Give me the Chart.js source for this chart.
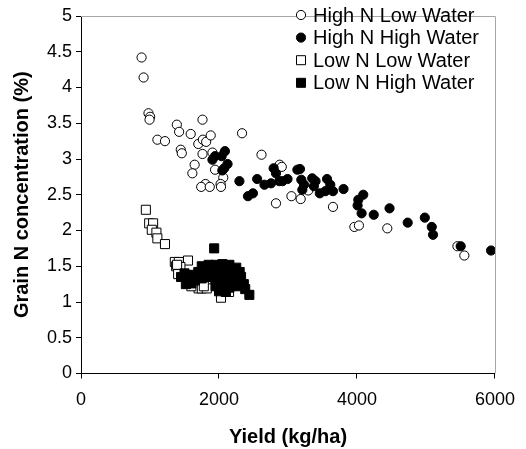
<!DOCTYPE html>
<html>
<head>
<meta charset="utf-8">
<script src="https://cdn.jsdelivr.net/npm/chart.js@4"></script>
<style>
  html, body { margin: 0; padding: 0; background: #fff; }
  #wrap { width: 526px; height: 449px; }
</style>
</head>
<body>
<div id="wrap"><canvas id="grainChart" width="526" height="449"></canvas></div>
<script>
// values
const seriesNames = ['High N Low Water', 'High N High Water', 'Low N Low Water', 'Low N High Water'];

const highNLowWaterX = [878, 907, 978, 1002, 993, 1389, 1422, 1761, 1590, 1107, 1217, 1446, 1461, 1700, 1766,
    1814, 1880, 1761, 1905, 2334, 1647, 1614, 1943, 2062, 1804, 1742, 1866, 2023, 2029, 2616,
    2880, 2910, 2826, 3050, 3184, 3294, 3652, 3962, 4028, 4439, 5456, 5556];
const highNLowWaterY = [4.42, 4.14, 3.64, 3.59, 3.55, 3.48, 3.38, 3.55, 3.35, 3.27, 3.25, 3.13, 3.08, 3.21, 3.27,
    3.24, 3.33, 3.07, 3.09, 3.36, 2.92, 2.80, 2.85, 2.74, 2.65, 2.61, 2.61, 2.65, 2.61, 3.06,
    2.92, 2.89, 2.38, 2.48, 2.44, 2.56, 2.33, 2.05, 2.07, 2.03, 1.78, 1.65];

const highNHighWaterX = [2086, 2038, 1943, 1905, 2124, 2076, 2048, 2296, 2420, 2492, 2553, 2659, 2754, 2792, 2826,
    2874, 2921, 2993, 3136, 3174, 3193, 3232, 3208, 3351, 3399, 3375, 3461, 3542, 3566, 3613,
    3652, 3805, 4019, 4009, 4091, 4067, 4243, 4472, 4735, 4983, 5084, 5102, 5503, 5943];
const highNHighWaterY = [3.11, 3.04, 3.04, 2.99, 2.93, 2.87, 2.84, 2.69, 2.48, 2.52, 2.72, 2.64, 2.66, 2.87, 2.80,
    2.69, 2.69, 2.72, 2.85, 2.86, 2.71, 2.64, 2.57, 2.73, 2.69, 2.62, 2.52, 2.55, 2.72, 2.64,
    2.55, 2.58, 2.43, 2.35, 2.50, 2.24, 2.22, 2.31, 2.11, 2.18, 2.05, 1.94, 1.78, 1.72];

const lowNLowWaterX = [940, 988, 1045, 1026, 1093, 1107, 1217, 1360, 1418, 1551, 1379, 1441, 1408, 1393,
    1704, 1751, 1823, 2029, 2146, 1600, 1780];
const lowNLowWaterY = [2.29, 2.10, 2.10, 2.01, 1.97, 1.89, 1.81, 1.56, 1.56, 1.58, 1.50, 1.49, 1.39, 1.52,
    1.19, 1.19, 1.19, 1.06, 1.14, 1.22, 1.22];

const lowNHighWaterX = [1930,
    1750, 1850, 1950, 2050, 2150, 2250,
    1500, 1600, 1700, 1800, 1900, 2000, 2100, 2200, 2300,
    1450, 1550, 1650, 1750, 1850, 1950, 2050, 2150, 2250, 2320,
    1520, 1600, 1950, 2050, 2150, 2250, 2360,
    2000, 2100, 2440, 2380];
const lowNHighWaterY = [1.75,
    1.50, 1.52, 1.52, 1.53, 1.52, 1.48,
    1.40, 1.38, 1.42, 1.42, 1.45, 1.44, 1.42, 1.44, 1.42,
    1.35, 1.32, 1.30, 1.33, 1.35, 1.32, 1.35, 1.30, 1.32, 1.35,
    1.25, 1.26, 1.22, 1.22, 1.20, 1.22, 1.25,
    1.15, 1.14, 1.10, 1.18];

const xTicks = [0, 2000, 4000, 6000];
const yTicks = [0, 0.5, 1, 1.5, 2, 2.5, 3, 3.5, 4, 4.5, 5];

function toPoints(xs, ys) {
    return xs.map((x, i) => ({ x: x, y: ys[i] }));
}

const FONT = "'Liberation Sans', Arial, sans-serif";

const markerStyles = [
    { pointStyle: 'circle', radius: 4.6, fill: '#ffffff' },
    { pointStyle: 'circle', radius: 4.6, fill: '#000000' },
    { pointStyle: 'rect', radius: 6.4, fill: '#ffffff' },
    { pointStyle: 'rect', radius: 6.4, fill: '#000000' }
];

const seriesData = [
    toPoints(highNLowWaterX, highNLowWaterY),
    toPoints(highNHighWaterX, highNHighWaterY),
    toPoints(lowNLowWaterX, lowNLowWaterY),
    toPoints(lowNHighWaterX, lowNHighWaterY)
];

// grey frame on top and right, like the original plot area
const frameLines = {
    id: 'frameLines',
    afterDatasetsDraw(chart) {
        const { ctx, chartArea } = chart;
        ctx.save();
        ctx.strokeStyle = '#a6a6a6';
        ctx.lineWidth = 1;
        ctx.beginPath();
        ctx.moveTo(chartArea.left, chartArea.top + 0.5);
        ctx.lineTo(chartArea.right + 0.5, chartArea.top + 0.5);
        ctx.lineTo(chartArea.right + 0.5, chartArea.bottom);
        ctx.stroke();
        ctx.restore();
    }
};

// legend sitting inside the plot, top right
const insideLegend = {
    id: 'insideLegend',
    afterDraw(chart) {
        const ctx = chart.ctx;
        const symX = 301, textX = 313, rowY = 15, rowGap = 22.6;
        ctx.save();
        ctx.font = '20px ' + FONT;
        ctx.textBaseline = 'middle';
        ctx.textAlign = 'left';
        chart.data.datasets.forEach((ds, i) => {
            const y = rowY + i * rowGap;
            const m = markerStyles[i];
            ctx.fillStyle = m.fill;
            ctx.strokeStyle = '#000';
            ctx.lineWidth = 1;
            ctx.beginPath();
            if (m.pointStyle === 'circle') {
                ctx.arc(symX, y, 4.6, 0, Math.PI * 2);
            } else {
                ctx.rect(symX - 4.5, y - 4.5, 9, 9);
            }
            ctx.fill();
            ctx.stroke();
            ctx.fillStyle = '#000';
            ctx.fillText(ds.label, textX, y + 1);
        });
        ctx.restore();
    }
};

const ctx = document.getElementById('grainChart').getContext('2d');
new Chart(ctx, {
    type: 'scatter',
    data: {
        datasets: seriesData.map((pts, i) => ({
            label: seriesNames[i],
            data: pts,
            pointStyle: markerStyles[i].pointStyle,
            pointRadius: markerStyles[i].radius,
            pointHoverRadius: markerStyles[i].radius,
            pointBackgroundColor: markerStyles[i].fill,
            pointBorderColor: '#000000',
            pointBorderWidth: 1,
            order: 4 - i   // later series drawn over earlier ones
        }))
    },
    options: {
        responsive: false,
        animation: false,
        devicePixelRatio: 1,
        layout: { padding: { top: 16, right: 25, bottom: 0, left: 0 } },
        plugins: {
            legend: { display: false },
            tooltip: { enabled: false }
        },
        scales: {
            x: {
                type: 'linear',
                min: 0,
                max: 6000,
                afterBuildTicks: function (scale) {
                    scale.ticks = xTicks.map(v => ({ value: v }));
                },
                afterFit: function (scale) {
                    scale.height = 75.5;
                },
                border: { color: '#000', width: 1 },
                grid: { drawOnChartArea: false, drawTicks: true, tickLength: 5, color: '#000' },
                ticks: {
                    color: '#000',
                    padding: 11,
                    maxRotation: 0,
                    font: { family: FONT, size: 18 },
                    callback: function (value) {
                        return String(value);
                    }
                },
                title: {
                    display: true,
                    text: 'Yield (kg/ha)',
                    color: '#000',
                    padding: { top: 0, bottom: 0 },
                    font: { family: FONT, size: 20, weight: 'bold' }
                }
            },
            y: {
                type: 'linear',
                min: 0,
                max: 5,
                afterBuildTicks: function (scale) {
                    scale.ticks = yTicks.map(v => ({ value: v }));
                },
                afterFit: function (scale) {
                    scale.width = 81;
                },
                border: { color: '#000', width: 1 },
                grid: { drawOnChartArea: false, drawTicks: true, tickLength: 5, color: '#000' },
                ticks: {
                    color: '#000',
                    padding: 4,
                    font: { family: FONT, size: 18 },
                    callback: function (value) {
                        return String(value);
                    }
                },
                title: {
                    display: true,
                    text: 'Grain N concentration (%)',
                    color: '#000',
                    padding: { top: 10, bottom: 0 },
                    font: { family: FONT, size: 20, weight: 'bold' }
                }
            }
        }
    },
    plugins: [frameLines, insideLegend]
});
</script>
</body>
</html>
